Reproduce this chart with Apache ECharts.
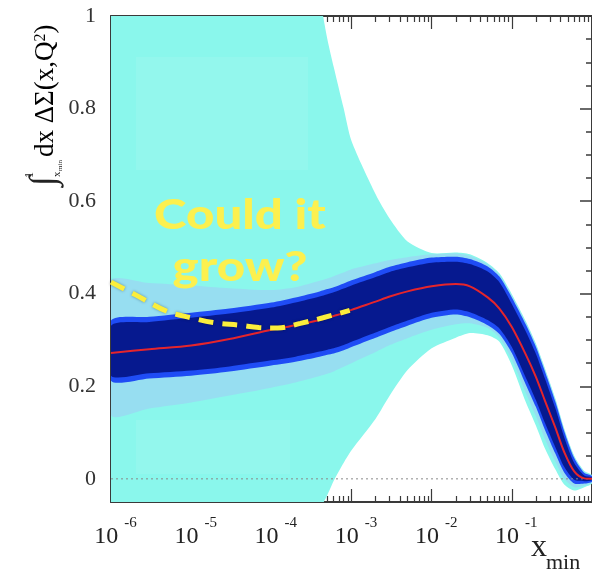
<!DOCTYPE html>
<html>
<head>
<meta charset="utf-8">
<script src="https://cdn.jsdelivr.net/npm/echarts@6/dist/echarts.min.js"></script>
<style>
  html, body { margin: 0; padding: 0; background: #fff; }
  #chart { width: 592px; height: 573px; }
</style>
</head>
<body>
<div id="chart"></div>
<script>
// x grid (x_min) shared by every band
const xs = [1e-6, 3e-6, 1e-5, 3e-5, 1e-4, 2e-4, 4e-4, 5e-4, 6e-4, 8e-4, 1e-3, 2e-3, 3e-3, 5e-3,
            1e-2, 2e-2, 3e-2, 5e-2, 7e-2, 0.1, 0.15, 0.2, 0.26, 0.35, 0.45, 0.6, 0.8, 1.0];

// central value of the truncated first moment
const central = [0.272, 0.280, 0.288, 0.302, 0.322, 0.332, 0.343, 0.348, 0.352, 0.358, 0.365, 0.383, 0.394, 0.405,
                 0.416, 0.421, 0.416, 0.392, 0.368, 0.328, 0.268, 0.220, 0.168, 0.110, 0.058, 0.016, 0.001, 0.000];

// inner (dark) band
const navyHi = [0.331, 0.339, 0.348, 0.357, 0.370, 0.381, 0.394, 0.399, 0.403, 0.411, 0.418, 0.436, 0.447, 0.457,
                0.467, 0.469, 0.464, 0.448, 0.425, 0.378, 0.318, 0.270, 0.216, 0.152, 0.090, 0.034, 0.007, 0.003];
const navyLo = [0.223, 0.228, 0.234, 0.243, 0.256, 0.264, 0.275, 0.279, 0.282, 0.289, 0.296, 0.316, 0.328, 0.342,
                0.359, 0.366, 0.360, 0.343, 0.325, 0.285, 0.218, 0.170, 0.120, 0.068, 0.026, -0.002, -0.005, -0.003];

// blue band
const blueHi = [0.342, 0.350, 0.359, 0.368, 0.381, 0.392, 0.405, 0.410, 0.414, 0.422, 0.429, 0.447, 0.458, 0.468,
                0.478, 0.480, 0.475, 0.459, 0.437, 0.392, 0.333, 0.285, 0.231, 0.166, 0.103, 0.045, 0.013, 0.006];
const blueLo = [0.212, 0.217, 0.223, 0.232, 0.245, 0.253, 0.264, 0.268, 0.271, 0.278, 0.285, 0.305, 0.317, 0.331,
                0.348, 0.355, 0.349, 0.332, 0.313, 0.272, 0.203, 0.155, 0.105, 0.054, 0.014, -0.010, -0.010, -0.006];

// light blue band
const lightHi = [0.428, 0.423, 0.418, 0.412, 0.408, 0.414, 0.428, 0.433, 0.438, 0.446, 0.453, 0.466, 0.473, 0.479,
                 0.485, 0.487, 0.482, 0.463, 0.441, 0.396, 0.337, 0.289, 0.235, 0.170, 0.106, 0.048, 0.015, 0.007];
const lightLo = [0.138, 0.152, 0.165, 0.180, 0.197, 0.208, 0.222, 0.227, 0.232, 0.242, 0.250, 0.274, 0.289, 0.304,
                 0.322, 0.334, 0.336, 0.326, 0.305, 0.258, 0.185, 0.135, 0.085, 0.037, 0.000, -0.018, -0.015, -0.008];

// outer (cyan) band
const cyanHi = [2.30, 2.15, 2.00, 1.85, 1.55, 1.28, 1.04, 0.95, 0.89, 0.80, 0.73, 0.615, 0.562, 0.513,
                0.488, 0.489, 0.485, 0.466, 0.444, 0.399, 0.340, 0.292, 0.238, 0.173, 0.109, 0.050, 0.017, 0.008];
const cyanLo = [-0.40, -0.40, -0.40, -0.36, -0.30, -0.20, -0.068, -0.035, -0.004, 0.035, 0.062, 0.130, 0.180, 0.235,
                0.282, 0.305, 0.315, 0.310, 0.296, 0.245, 0.165, 0.115, 0.065, 0.020, -0.012, -0.025, -0.018, -0.010];

// "could it grow?" scenario
const growX = [1e-6, 2e-6, 5e-6, 1e-5, 2e-5, 4e-5, 7e-5, 1.2e-4, 2.3e-4, 4.4e-4, 9.5e-4];
const growY = [0.425, 0.398, 0.362, 0.348, 0.337, 0.332, 0.327, 0.326, 0.336, 0.348, 0.364];

// zero reference
const zeroX = [1e-6, 1];
const zeroY = [0, 0];

// axis ticks
const xMajorTicks = [1e-6, 1e-5, 1e-4, 1e-3, 1e-2, 1e-1, 1];
const xMinorTicks = [];
xMajorTicks.slice(0, -1).forEach(d => { for (let k = 2; k <= 9; k++) xMinorTicks.push(+(d * k).toPrecision(3)); });
const yMajorTicks = [0, 0.2, 0.4, 0.6, 0.8, 1];
const yMinorTicks = [0.05, 0.1, 0.15, 0.25, 0.3, 0.35, 0.45, 0.5, 0.55, 0.65, 0.7, 0.75, 0.85, 0.9, 0.95];

const SERIF = '"Liberation Serif", "DejaVu Serif", serif';
const AXIS_COLOR = '#3a3a3a';
const pairs = (x, y) => x.map((v, i) => [v, y[i]]);

// a filled band between two curves, drawn as one polygon through the axis scales
function band(name, lo, hi, color) {
  return {
    type: 'custom', name: name, clip: true, silent: true,
    data: xs.map((x, i) => [x, lo[i], hi[i]]),
    encode: { x: 0, y: [1, 2] },
    renderItem: (params, api) => {
      if (params.dataIndex !== 0) return null;
      const upper = xs.map((x, i) => api.coord([x, hi[i]]));
      const lower = xs.map((x, i) => api.coord([x, lo[i]])).reverse();
      return {
        type: 'polygon',
        shape: { points: upper.concat(lower), smooth: 0.25 },
        style: { fill: color }
      };
    }
  };
}

const logCommon = { type: 'log', min: 1e-6, max: 1, logBase: 10, splitLine: { show: false } };
function xAxisDef(position, major, extra) {
  return Object.assign({}, logCommon, {
    position: position,
    axisLine: { show: major, onZero: false, lineStyle: { color: AXIS_COLOR, width: 2 } },
    axisTick: major
      ? { show: true, inside: true, length: 13, customValues: xMajorTicks, lineStyle: { color: AXIS_COLOR, width: 1.2 } }
      : { show: true, inside: true, length: 6, customValues: xMinorTicks, lineStyle: { color: AXIS_COLOR, width: 1.2 } },
    axisLabel: { show: false }
  }, extra || {});
}

const xAxes = [
  xAxisDef('bottom', true, {
    axisLabel: {
      show: true, customValues: xMajorTicks.slice(0, -1), margin: 14, padding: [0, 0, 0, 9],
      formatter: v => '{b|10}{s|' + Math.round(Math.log10(v)) + '}',
      rich: {
        b: { fontFamily: SERIF, fontSize: 24, color: '#222', padding: [9, 0, 0, 0] },
        s: { fontFamily: SERIF, fontSize: 15, color: '#222', verticalAlign: 'top', padding: [0, 0, 0, 6] }
      }
    }
  }),
  xAxisDef('bottom', false),
  xAxisDef('top', true),
  xAxisDef('top', false)
];

const linCommon = { type: 'value', min: -0.05, max: 1, splitLine: { show: false } };
function yAxisDef(position, major, extra) {
  return Object.assign({}, linCommon, {
    position: position,
    axisLine: { show: major, onZero: false, lineStyle: { color: AXIS_COLOR, width: 2 } },
    axisTick: major
      ? { show: true, inside: true, length: 12, customValues: yMajorTicks, lineStyle: { color: AXIS_COLOR, width: 1.5 } }
      : { show: true, inside: true, length: 6, customValues: yMinorTicks, lineStyle: { color: AXIS_COLOR, width: 1.5 } },
    axisLabel: { show: false }
  }, extra || {});
}

const yAxes = [
  yAxisDef('left', true, {
    axisLabel: { show: true, customValues: yMajorTicks, margin: 15, fontFamily: 'Liberation Serif',
                 fontSize: 22, color: '#333', formatter: v => String(+v.toFixed(1)) }
  }),
  yAxisDef('left', false),
  yAxisDef('right', true),
  yAxisDef('right', false)
];

const series = [
  band('cyan', cyanLo, cyanHi, '#8af7ec'),
  { type: 'line', name: 'zero', data: pairs(zeroX, zeroY), symbol: 'none', silent: true,
    lineStyle: { color: '#8a8a8a', width: 1, type: [2, 3] } },
  band('light', lightLo, lightHi, '#97def1'),
  band('blue', blueLo, blueHi, '#1f4cf5'),
  band('navy', navyLo, navyHi, '#06198f'),
  { type: 'line', name: 'central', data: pairs(xs, central), symbol: 'none', smooth: 0.3, silent: true,
    lineStyle: { color: '#e5252c', width: 2 } },
  { type: 'line', name: 'grow', data: pairs(growX, growY), symbol: 'none', smooth: 0.4, silent: true,
    lineStyle: { color: '#fbee3c', width: 5, type: [15, 9], shadowColor: 'rgba(0,0,0,0.35)', shadowBlur: 3 } }
];

const chart = echarts.init(document.getElementById('chart'), null, { renderer: 'canvas' });
chart.setOption({
  animation: false,
  backgroundColor: '#ffffff',
  grid: { left: 111, right: -5, top: 16, bottom: 71, containLabel: false },
  xAxis: xAxes,
  yAxis: yAxes,
  series: series,
  graphic: [
    // faint lighter panels inside the outer band
    { type: 'rect', z: 3, silent: true, shape: { x: 136, y: 57, width: 172, height: 113 },
      style: { fill: 'rgba(255,255,255,0.08)' } },
    { type: 'rect', z: 3, silent: true, shape: { x: 136, y: 420, width: 154, height: 54 },
      style: { fill: 'rgba(255,255,255,0.08)' } },
    // annotation
    { type: 'text', z: 20, silent: true, x: 240, y: 190, scaleX: 1.2, originX: 0,
      style: { text: 'Could it\ngrow?', align: 'center', verticalAlign: 'top',
               font: '900 41px Lato, "Open Sans", sans-serif', lineHeight: 52, fill: '#fcf04e',
               shadowColor: 'rgba(0,0,0,0.45)', shadowBlur: 4 } },
    // y-axis title, rotated
    { type: 'group', x: 54, y: 186, rotation: Math.PI / 2, silent: true, children: [
      { type: 'text', x: 0, y: -9, style: { text: '\u222B', font: '36px ' + SERIF, fill: '#222', verticalAlign: 'middle' } },
      { type: 'text', x: 8, y: -24, style: { text: '1', font: '12px ' + SERIF, fill: '#222', verticalAlign: 'middle' } },
      { type: 'text', x: 9, y: 3, style: { text: 'x', font: '11px ' + SERIF, fill: '#222', verticalAlign: 'middle' } },
      { type: 'text', x: 15, y: 6, style: { text: 'min', font: '7px ' + SERIF, fill: '#222', verticalAlign: 'middle' } },
      { type: 'text', x: 29, y: -8, style: {
          text: '{m|dx \u0394\u03A3(x,Q}{s|2}{m|)}', verticalAlign: 'middle',
          rich: { m: { fontFamily: SERIF, fontSize: 27, color: '#222' },
                  s: { fontFamily: SERIF, fontSize: 16, color: '#222', verticalAlign: 'top' } } } }
    ]},
    // x-axis title
    { type: 'text', x: 531, y: 532, silent: true,
      style: { text: 'x', font: '32px ' + SERIF, fill: '#222', verticalAlign: 'top' } },
    { type: 'text', x: 546, y: 552, silent: true,
      style: { text: 'min', font: '22px ' + SERIF, fill: '#222', verticalAlign: 'top' } }
  ]
});
</script>
</body>
</html>
